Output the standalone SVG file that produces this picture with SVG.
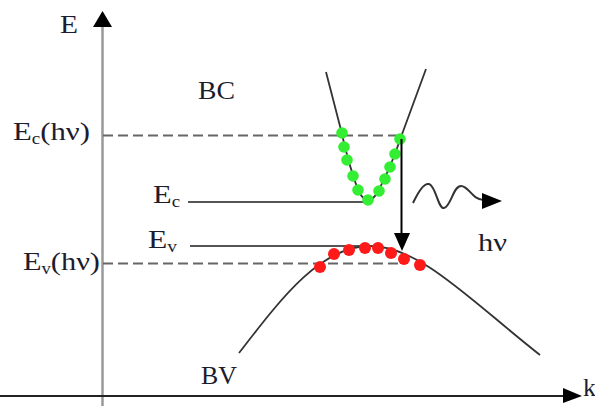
<svg xmlns="http://www.w3.org/2000/svg" width="595" height="406" viewBox="0 0 595 406">
<style>
text{font-family:"Liberation Serif","Times New Roman",serif;font-size:26px;fill:#1c1c2e}
.sub{font-size:16px}
.dash{stroke:#666;stroke-width:2;stroke-dasharray:10 5;fill:none}
.lvl{stroke:#555;stroke-width:1.8;fill:none}
.band{stroke:#333;stroke-width:1.8;fill:none}
.g{fill:#33ee33}
.r{fill:#ff1a1a}
</style>
<rect width="595" height="406" fill="#fff"/>
<g id="axes">
<line x1="102.5" y1="26" x2="102.5" y2="406" stroke="#999" stroke-width="2.5"/>
<polygon points="93,27 102.5,11 112,27" fill="#000"/>
<line x1="0" y1="396" x2="565" y2="396" stroke="#222" stroke-width="2"/>
<polygon points="563,388 582,396 563,403" fill="#000"/>
<text x="60" y="33" textLength="18" lengthAdjust="spacingAndGlyphs">E</text>
<text x="583" y="396">k</text>
</g>
<g id="levels">
<line class="dash" x1="103" y1="135.5" x2="400" y2="135.5"/>
<line class="dash" x1="103" y1="263.5" x2="402" y2="263.5"/>
<line class="lvl" x1="188" y1="202" x2="366" y2="202"/>
<line class="lvl" x1="190" y1="246" x2="364" y2="246"/>
<text x="13" y="140" textLength="77" lengthAdjust="spacingAndGlyphs">E<tspan class="sub" dy="4">c</tspan><tspan dy="-4">(hν)</tspan></text>
<text x="23" y="270" textLength="77" lengthAdjust="spacingAndGlyphs">E<tspan class="sub" dy="4">v</tspan><tspan dy="-4">(hν)</tspan></text>
<text x="153" y="203" textLength="27" lengthAdjust="spacingAndGlyphs">E<tspan class="sub" dy="4">c</tspan></text>
<text x="148" y="248" textLength="29" lengthAdjust="spacingAndGlyphs">E<tspan class="sub" dy="4">v</tspan></text>
</g>
<g id="BC">
<path class="band" d="M326,72 L341,130 Q350,170 359,192 Q368,208 377,193 Q390,170 401,137 L426,69"/>
<circle class="g" cx="342" cy="133" r="5.8"/>
<circle class="g" cx="344" cy="147" r="5.8"/>
<circle class="g" cx="347" cy="160" r="5.8"/>
<circle class="g" cx="353" cy="176" r="5.8"/>
<circle class="g" cx="358" cy="190" r="5.8"/>
<circle class="g" cx="368" cy="200" r="5.8"/>
<circle class="g" cx="379" cy="191" r="5.8"/>
<circle class="g" cx="385" cy="179" r="5.8"/>
<circle class="g" cx="390" cy="167" r="5.8"/>
<circle class="g" cx="395" cy="154" r="5.8"/>
<circle class="g" cx="400" cy="139" r="5.8"/>
<text x="198" y="99" textLength="37" lengthAdjust="spacingAndGlyphs">BC</text>
</g>
<g id="BV">
<path class="band" d="M239,353 C280,300 320,246 370,246 C420,246 470,300 540,355"/>
<circle class="r" cx="320" cy="267" r="6"/>
<circle class="r" cx="334" cy="254" r="6"/>
<circle class="r" cx="349" cy="250" r="6"/>
<circle class="r" cx="365" cy="248" r="6"/>
<circle class="r" cx="378" cy="248" r="6"/>
<circle class="r" cx="391" cy="253" r="6"/>
<circle class="r" cx="404" cy="259" r="6"/>
<circle class="r" cx="420" cy="265" r="6"/>
<text x="201" y="384" textLength="36" lengthAdjust="spacingAndGlyphs">BV</text>
</g>
<g id="photon">
<text x="478" y="251" textLength="29" lengthAdjust="spacingAndGlyphs">hν</text>
</g>
<g id="connectors">
<line x1="401.5" y1="139" x2="401.5" y2="236" stroke="#000" stroke-width="2"/>
<polygon points="394,233 410,233 402,251" fill="#000"/>
<path d="M413,203 C420,188 425,183 429,184 C436,186 438,209 444,208 C451,207 453,186 461,186 C469,186 472,200 484,200" stroke="#333" stroke-width="2" fill="none"/>
<polygon points="482,193 502,201 482,209" fill="#000"/>
</g>
</svg>
